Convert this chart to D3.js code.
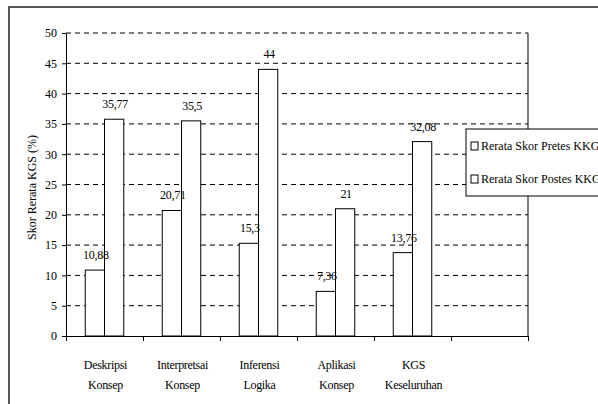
<!DOCTYPE html>
<html>
<head>
<meta charset="utf-8">
<script src="https://cdn.jsdelivr.net/npm/d3@7"></script>
<style>
  html, body { margin: 0; padding: 0; background: #fff; }
  svg text { font-family: "Liberation Serif", "Times New Roman", serif; font-size: 12px; fill: #000; }
</style>
</head>
<body>
<svg id="chart" width="598" height="404"></svg>
<script>
// Category labels (two lines each) and an empty trailing slot on the axis
const categories = [
  ["Deskripsi", "Konsep"],
  ["Interpretsai", "Konsep"],
  ["Inferensi", "Logika"],
  ["Aplikasi", "Konsep"],
  ["KGS", "Keseluruhan"]
];
const slotCount = 6;

const seriesNames = ["Rerata Skor Pretes KKGS", "Rerata Skor Postes KKGS"];
const pretes = [10.88, 20.71, 15.3, 7.36, 13.76];
const postes = [35.77, 35.5, 44, 21, 32.08];
const yTicks = [0, 5, 10, 15, 20, 25, 30, 35, 40, 45, 50];
const yTitle = "Skor Rerata KGS (%)";

const svg = d3.select("#chart");
const plot = { left: 66, right: 528, top: 33, bottom: 336 };

// outer chart frame
svg.append("rect")
  .attr("x", 9).attr("y", 7).attr("width", 700).attr("height", 500)
  .attr("fill", "#fff").attr("stroke", "#222").attr("stroke-width", 1.5);

const x = d3.scaleBand().domain(d3.range(slotCount)).range([plot.left, plot.right]).padding(0);
const slotEdge = d3.scaleLinear().domain([0, slotCount]).range([plot.left, plot.right]);
const xs = d3.scaleBand().domain([0, 1])
  .range([x.bandwidth() / 4, x.bandwidth() * 3 / 4]).padding(0);
const y = d3.scaleLinear().domain([0, 50]).range([plot.bottom, plot.top]);

// dashed horizontal gridlines
svg.append("g").selectAll("line")
  .data(yTicks.filter(t => t > 0))
  .join("line")
  .attr("x1", plot.left).attr("x2", plot.right)
  .attr("y1", d => y(d)).attr("y2", d => y(d))
  .attr("stroke", "#000").attr("stroke-width", 1)
  .attr("stroke-dasharray", "5,4");

// right edge of the plot area
svg.append("line")
  .attr("x1", plot.right).attr("x2", plot.right)
  .attr("y1", y(50)).attr("y2", y(0))
  .attr("stroke", "#000").attr("stroke-width", 1);

// bars
const rows = categories.map((c, i) => ({ i, vals: [pretes[i], postes[i]] }));
const groups = svg.append("g").selectAll("g")
  .data(rows).join("g")
  .attr("transform", d => `translate(${x(d.i)},0)`);

groups.selectAll("rect")
  .data(d => d.vals.map((v, k) => ({ v, k })))
  .join("rect")
  .attr("x", d => xs(d.k))
  .attr("y", d => y(d.v))
  .attr("width", xs.bandwidth())
  .attr("height", d => y(0) - y(d.v))
  .attr("fill", "#fff").attr("stroke", "#000").attr("stroke-width", 1);

const fmt = v => String(v).replace(".", ",");
groups.selectAll("text.val")
  .data(d => d.vals.map((v, k) => ({ v, k })))
  .join("text")
  .attr("class", "val")
  .attr("x", d => xs(d.k) + xs.bandwidth() / 2 + 1)
  .attr("y", d => y(d.v) - 11)
  .attr("text-anchor", "middle")
  .attr("letter-spacing", "-0.3")
  .text(d => fmt(d.v));

// y axis
const yAxis = svg.append("g")
  .attr("transform", `translate(${plot.left},0)`)
  .call(d3.axisLeft(y).tickValues(yTicks).tickSize(4).tickPadding(5).tickSizeOuter(0));
yAxis.select(".domain").attr("stroke", "#000");
yAxis.selectAll("text")
  .style("font-family", "'Liberation Serif', serif")
  .style("font-size", "12px");

// x axis with ticks at slot boundaries
const xAxis = svg.append("g")
  .attr("transform", `translate(0,${plot.bottom})`)
  .call(d3.axisBottom(slotEdge).tickValues(d3.range(slotCount + 1)).tickSize(5).tickFormat("").tickSizeOuter(0));
xAxis.select(".domain").attr("stroke", "#000");

// category labels
const catG = svg.append("g").selectAll("text")
  .data(categories).join("text")
  .attr("text-anchor", "middle")
  .attr("letter-spacing", "-0.3")
  .attr("transform", (d, i) => `translate(${x(i) + x.bandwidth() / 2 + 1},0)`);
catG.selectAll("tspan")
  .data(d => d).join("tspan")
  .attr("x", 0)
  .attr("y", (d, j) => 369 + j * 20)
  .text(d => d);

// y axis title
svg.append("text")
  .attr("transform", `translate(36,${(plot.top + plot.bottom) / 2 + 3}) rotate(-90)`)
  .attr("text-anchor", "middle")
  .text(yTitle);

// legend
const legend = svg.append("g").attr("transform", "translate(466,129)");
legend.append("rect")
  .attr("x", 0).attr("y", 0).attr("width", 200).attr("height", 67)
  .attr("fill", "#fff").attr("stroke", "#000").attr("stroke-width", 1);
const items = legend.selectAll("g.item")
  .data(seriesNames).join("g")
  .attr("class", "item")
  .attr("transform", (d, i) => `translate(0,${17 + i * 33})`);
items.append("rect")
  .attr("x", 5).attr("y", -4).attr("width", 7).attr("height", 8)
  .attr("fill", "#fff").attr("stroke", "#000").attr("stroke-width", 1);
items.append("text")
  .attr("x", 15).attr("y", 4)
  .text(d => d);
</script>
</body>
</html>
